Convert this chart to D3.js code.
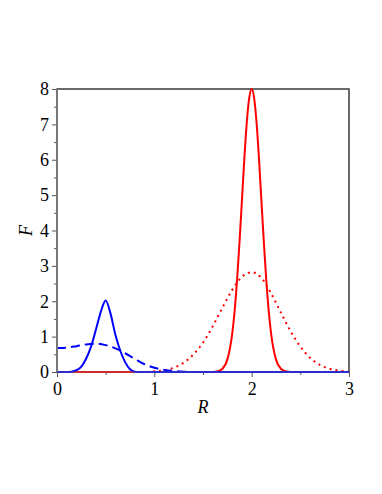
<!DOCTYPE html>
<html>
  <head>
    <script src="https://cdn.jsdelivr.net/npm/d3@7"></script>
    <style>
      body { margin: 0; background: #fff; }
    </style>
  </head>
  <body>
    <svg width="382" height="494" id="mainsvg"></svg>
    <script>

    // values
    const blueSolidR = [0, 0.1, 0.15, 0.2, 0.25, 0.3, 0.35, 0.4, 0.45, 0.5, 0.55, 0.6, 0.65, 0.7, 0.75, 0.8, 0.85, 1, 1.5, 2, 2.5, 3];
    const blueSolidF = [0, 0, 0.01, 0.05, 0.15, 0.38, 0.72, 1.2, 1.7, 2.02, 1.65, 1.05, 0.6, 0.28, 0.08, 0.01, 0, 0, 0, 0, 0, 0];

    const blueDashR = [0, 0.1, 0.2, 0.3, 0.4, 0.5, 0.6, 0.7, 0.8, 0.9, 1.0, 1.1, 1.2, 1.3, 1.4, 1.5, 2, 2.5, 3];
    const blueDashF = [0.68, 0.69, 0.73, 0.78, 0.8, 0.76, 0.67, 0.53, 0.37, 0.22, 0.12, 0.06, 0.03, 0.01, 0, 0, 0, 0, 0];

    const redSolidR = [0, 1.5, 1.6, 1.65, 1.7, 1.75, 1.8, 1.825, 1.85, 1.875, 1.9, 1.925, 1.95, 1.975, 2.0,
                       2.025, 2.05, 2.075, 2.1, 2.125, 2.15, 2.175, 2.2, 2.25, 2.3, 2.35, 2.4, 2.5, 3];
    const redSolidF = [0, 0, 0, 0.02, 0.09, 0.35, 1.08, 1.73, 2.6, 3.67, 4.85, 6.04, 7.06, 7.75, 8.0,
                       7.75, 7.06, 6.04, 4.85, 3.67, 2.6, 1.73, 1.08, 0.35, 0.09, 0.02, 0, 0, 0];

    const redDotR = [0, 0.5, 0.9, 1.0, 1.1, 1.2, 1.3, 1.4, 1.5, 1.6, 1.7, 1.8, 1.9, 2.0,
                     2.1, 2.2, 2.3, 2.4, 2.5, 2.6, 2.7, 2.8, 2.9, 3.0];
    const redDotF = [0, 0, 0, 0.02, 0.05, 0.12, 0.26, 0.49, 0.83, 1.29, 1.82, 2.32, 2.69, 2.82,
                     2.66, 2.22, 1.68, 1.15, 0.72, 0.4, 0.2, 0.09, 0.04, 0.01];

    const xTicks = [0, 1, 2, 3];
    const yTicks = [0, 1, 2, 3, 4, 5, 6, 7, 8];

    const font = '"Liberation Serif", "Times New Roman", serif';

    let svg = d3.select('svg');
    const margin = {left: 57, top: 89, right: 33, bottom: 122};
    const width = +svg.attr('width');
    const height = +svg.attr('height');

    const x = d3.scaleLinear().domain([0, 3]).range([margin.left, width - margin.right]);
    const y = d3.scaleLinear().domain([0, 8]).range([height - margin.bottom, margin.top]);

    // frame (top and right)
    svg.append('rect')
      .attr('x', x(0)).attr('y', y(8))
      .attr('width', x(3) - x(0)).attr('height', y(0) - y(8))
      .attr('fill', 'none').attr('stroke', '#3a3a3a').attr('stroke-width', 1.5);

    // minor ticks
    svg.append('g')
      .attr('transform', `translate(0,${y(0)})`)
      .call(d3.axisBottom(x).tickValues([0.5, 1.5, 2.5]).tickSize(3).tickFormat(''))
      .call(g => g.select('.domain').remove())
      .call(g => g.selectAll('line').attr('stroke', '#555'));
    svg.append('g')
      .attr('transform', `translate(${x(0)},0)`)
      .call(d3.axisLeft(y).tickValues(d3.range(0.5, 8, 1)).tickSize(3).tickFormat(''))
      .call(g => g.select('.domain').remove())
      .call(g => g.selectAll('line').attr('stroke', '#555'));

    // major ticks and labels
    const xAxis = svg.append('g')
      .attr('transform', `translate(0,${y(0)})`)
      .call(d3.axisBottom(x).tickValues(xTicks).tickSize(5).tickPadding(5).tickFormat(d3.format('d')));
    xAxis.select('.domain').remove();
    xAxis.selectAll('line').attr('stroke', '#555');

    const yAxis = svg.append('g')
      .attr('transform', `translate(${x(0)},0)`)
      .call(d3.axisLeft(y).tickValues(yTicks).tickSize(5).tickPadding(3).tickFormat(d3.format('d')));
    yAxis.select('.domain').remove();
    yAxis.selectAll('line').attr('stroke', '#555');

    svg.selectAll('.tick text')
      .attr('font-family', font)
      .attr('font-size', 18)
      .attr('fill', '#000');

    // curves
    const line = d3.line()
      .x(d => x(d[0]))
      .y(d => y(d[1]))
      .curve(d3.curveMonotoneX);

    const series = [
      {r: redSolidR, f: redSolidF, color: '#ff0000', dash: null},
      {r: redDotR, f: redDotF, color: '#ff0000', dash: '2,4'},
      {r: blueSolidR, f: blueSolidF, color: '#0000ff', dash: null},
      {r: blueDashR, f: blueDashF, color: '#0000ff', dash: '9,5'}
    ];

    svg.selectAll('path.curve')
      .data(series)
      .enter().append('path')
      .attr('class', 'curve')
      .attr('d', s => line(d3.zip(s.r, s.f)))
      .attr('fill', 'none')
      .attr('stroke', s => s.color)
      .attr('stroke-width', 2)
      .attr('stroke-dasharray', s => s.dash);

    // axis lines (left and bottom)
    svg.append('line')
      .attr('x1', x(0)).attr('x2', x(0)).attr('y1', y(0)).attr('y2', y(8))
      .attr('stroke', '#777').attr('stroke-width', 2);
    svg.append('line')
      .attr('x1', x(0)).attr('x2', x(3)).attr('y1', y(0)).attr('y2', y(0))
      .attr('stroke', '#777').attr('stroke-width', 1.5).attr('opacity', 0.5);

    // axis titles
    svg.append('text')
      .attr('x', (x(0) + x(3)) / 2).attr('y', 413)
      .attr('text-anchor', 'middle')
      .attr('font-family', font)
      .attr('font-style', 'italic').attr('font-size', 18)
      .text('R');

    svg.append('text')
      .attr('transform', `translate(32,${(y(0) + y(8)) / 2}) rotate(-90)`)
      .attr('text-anchor', 'middle')
      .attr('font-family', font)
      .attr('font-style', 'italic').attr('font-size', 18)
      .text('F');

  </script>
  </body>
</html>
